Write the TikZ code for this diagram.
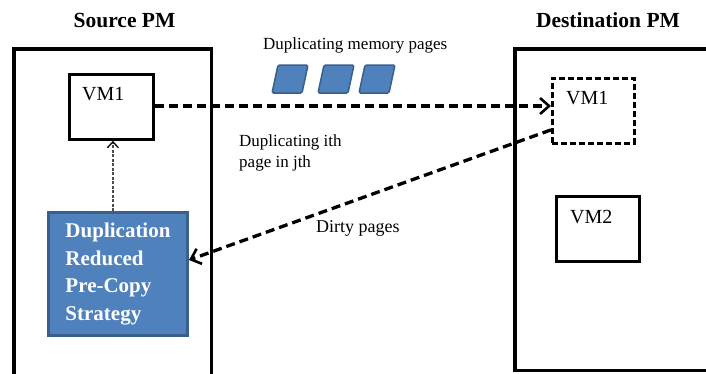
\documentclass[tikz,border=0pt]{standalone}
\usepackage{fontspec}
\setmainfont{Liberation Serif}
\usetikzlibrary{arrows.meta}
\definecolor{pageblue}{HTML}{4F81BD}
\definecolor{pageedge}{HTML}{3A5F8B}
\tikzset{
  pmbox/.style={draw, line width=3.5pt, anchor=north west, inner sep=0pt},
  vmbox/.style={draw, line width=2.8pt, anchor=north west, inner sep=0pt,
    minimum width=83pt, minimum height=65pt},
  vmtext/.style={anchor=base west, inner sep=0pt, font=\fontsize{20}{24}\selectfont},
  titletext/.style={anchor=base, inner sep=0pt, font=\fontsize{21.5}{26}\selectfont\bfseries},
  plaintext/.style={anchor=base west, inner sep=0pt, align=left, font=\fontsize{17}{21}\selectfont},
  migrate/.style={line width=3.3pt, dash pattern=on 9pt off 5pt,
    -{Straight Barb[length=9pt,width=16pt,line width=2.6pt]}},
  notify/.style={draw=black!70, line width=1.4pt, dash pattern=on 3pt off 1.5pt,
    -{Straight Barb[length=6pt,width=11pt,line width=1.3pt,color=black]}},
  mempage/.style={fill=pageblue, draw=pageedge, line width=1.5pt, rounded corners=1.5pt}
}
\begin{document}
\begin{tikzpicture}[x=1pt,y=-1pt]
      \useasboundingbox (0,0) rectangle (706,373);
      \clip (0,0) rectangle (706,373);
      % hosts
      \node [titletext] (srctitle) at (124.5,27) {Source PM};
      \node [titletext] (dsttitle) at (608,27) {Destination PM};
      \node [pmbox, minimum width=197.5pt, minimum height=400pt] (srcpm) at (12,47) {};
      \node [pmbox, minimum width=300pt, minimum height=321.5pt] (dstpm) at (513,47) {};
      % virtual machines
      \node [vmbox, minimum width=84pt] (srcvm) at (68,73) {};
      \node [vmtext] (srcvmtext) at (82,100) {VM1};
      \node [vmbox, minimum width=82pt, dash pattern=on 6pt off 3pt] (dstvm) at (551,77) {};
      \node [vmtext] (dstvmtext) at (566,104) {VM1};
      \node [vmbox] (vmtwo) at (555,195) {};
      \node [vmtext] (vmtwotext) at (570,223) {VM2};
      % strategy
      \node [anchor=north west, fill=pageblue, draw=pageedge, line width=3pt,
        minimum width=139pt, minimum height=123pt, align=left, text=white,
        font=\fontsize{21}{27.7}\selectfont\bfseries] (drpc) at (47,211)
        {Duplication\\Reduced\\Pre-Copy\\Strategy};
      % memory pages
      \node [plaintext] (memtext) at (263,49) {Duplicating memory pages};
      \foreach \x in {272,318,359}
        \draw [mempage] (\x,93) -- ++(30,0) -- ++(6,-28) -- ++(-30,0) -- cycle;
      \node [plaintext] (itertext) at (239,167) {Duplicating ith\\page in jth};
      \node [plaintext, font=\fontsize{18}{22}\selectfont] (dirtytext) at (316,232) {Dirty pages};

      % links
      \draw [migrate] (srcvm.east |- 0,106) -- (dstvm.west |- 0,106);
      \draw [migrate] ([yshift=-19pt]dstvm.west) -- ([yshift=14pt]drpc.east);
      \draw [notify] ([xshift=1.5pt]srcvm.south |- drpc.north) -- ([xshift=1.5pt]srcvm.south);
    \end{tikzpicture}
\end{document}
